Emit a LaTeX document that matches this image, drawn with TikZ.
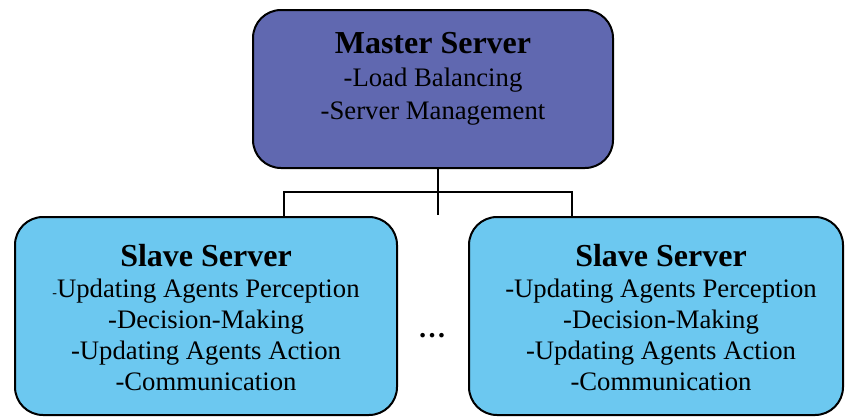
\documentclass[tikz,border=0pt]{standalone}
\usepackage{fontspec}
\setmainfont{Liberation Serif}
\definecolor{masterfill}{RGB}{96,104,176}
\definecolor{slavefill}{RGB}{108,200,240}
\begin{document}
\begin{tikzpicture}[x=1pt,y=-1pt,
  box/.style={draw=black, line width=2pt, rounded corners=28pt, inner sep=0pt},
  wire/.style={draw=black, line width=1.5pt},
  label/.style={align=center, inner sep=0pt, font=\fontsize{26.7}{31}\selectfont},
  mlabel/.style={label, font=\fontsize{26.7}{33}\selectfont}]
\useasboundingbox (0,0) rectangle (845,416);
\clip (0,0) rectangle (845,416);

% server boxes
\node[box, fill=masterfill, minimum width=360pt, minimum height=158pt] (master) at (433,89) {};
\node[box, fill=slavefill, minimum width=382pt, minimum height=198pt, anchor=north] (left) at (206,216) {};
\node[box, fill=slavefill, minimum width=374pt, minimum height=198pt, anchor=north] (right) at (656,216) {};

% tree connectors
\coordinate (split) at (438,192);
\coordinate (stub) at (438,215);
\draw[wire] ([xshift=5pt]master.south) -- (stub);
\draw[wire] ([xshift=78pt]left.north) -- ([xshift=78pt]left.north |- split)
  -- ([xshift=-84pt]right.north |- split) -- ([xshift=-84pt]right.north);

% box texts
\node[mlabel] (mtext) at (433,79)
  {{\fontsize{32}{33}\selectfont\bfseries Master Server}\\
   -Load Balancing\\
   -Server Management};
\node[label] (ltext) at (206,318)
  {{\fontsize{32}{31}\selectfont\bfseries Slave Server}\\
   {\fontsize{14}{14}\selectfont -}Updating Agents Perception\\
   -Decision-Making\\
   -Updating Agents Action\\
   -Communication};
\node[label] (rtext) at (661,318)
  {{\fontsize{32}{31}\selectfont\bfseries Slave Server}\\
   -Updating Agents Perception\\
   -Decision-Making\\
   -Updating Agents Action\\
   -Communication};

% ellipsis between the slave servers
\node[font=\fontsize{28}{28}\selectfont\bfseries, inner sep=0pt, anchor=base] (dots) at (432,337) {…};
\end{tikzpicture}
\end{document}
